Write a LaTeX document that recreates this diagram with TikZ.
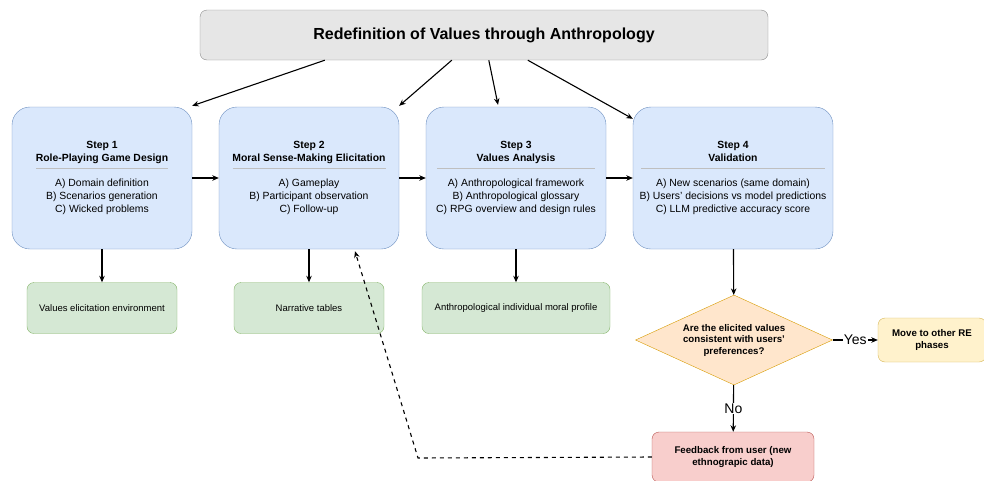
\documentclass[tikz,border=0pt]{standalone}
\usepackage{fontspec}
\setmainfont{Liberation Sans}
\usetikzlibrary{calc,shapes.geometric,arrows.meta}
\definecolor{titlefill}{HTML}{E6E6E6}
\definecolor{titleline}{HTML}{8C8C8C}
\definecolor{stepfill}{HTML}{DAE8FC}
\definecolor{stepline}{HTML}{6C8EBF}
\definecolor{outfill}{HTML}{D5E8D4}
\definecolor{outline}{HTML}{82B366}
\definecolor{askfill}{HTML}{FFE6CC}
\definecolor{askline}{HTML}{D79B00}
\definecolor{movefill}{HTML}{FFF2CC}
\definecolor{moveline}{HTML}{D6B656}
\definecolor{backfill}{HTML}{F8CECC}
\definecolor{backline}{HTML}{B85450}
\newcommand{\steprule}[1]{\textcolor{black!25}{\rule[3.5pt]{#1}{0.6pt}}}
\newcommand{\stepfont}{\fontsize{10.4}{13}\selectfont}
\newcommand{\smallbold}{\fontsize{9.7}{11.5}\selectfont\bfseries}

\tikzset{
  titlebox/.style={draw=titleline, fill=titlefill, rounded corners=7pt, minimum width=568pt, minimum height=50pt, font=\fontsize{16}{19}\selectfont\bfseries},
  stepbox/.style={draw=stepline, fill=stepfill, rounded corners=18pt, minimum width=180pt, minimum height=142pt, align=center, inner sep=0pt, font=\stepfont},
  outbox/.style={draw=outline, fill=outfill, rounded corners=7pt, minimum width=150pt, minimum height=51pt, font=\fontsize{9.5}{11.5}\selectfont},
  askbox/.style={draw=askline, fill=askfill, diamond, aspect=2.2, minimum width=197pt, minimum height=90pt, inner sep=0pt, align=center, font=\smallbold},
  movebox/.style={draw=moveline, fill=movefill, rounded corners=7pt, minimum width=108pt, minimum height=44pt, align=center, font=\smallbold},
  backbox/.style={draw=backline, fill=backfill, rounded corners=7pt, minimum width=162pt, minimum height=50pt, align=center, font=\smallbold},
  arr/.style={-{Stealth[length=6.5pt,width=5.5pt]}, line width=1.1pt},
  answer/.style={fill=white, inner sep=1pt, font=\fontsize{14}{16}\selectfont}
}

\begin{document}
\begin{tikzpicture}[x=1pt,y=-1pt]
    \useasboundingbox (0,0) rectangle (984,480);

    \node[titlebox] (title) at (484,35) {Redefinition of Values through Anthropology};

    % steps
    \node[stepbox] (s1) at (102,178) {\textbf{Step 1}\\\textbf{Role-Playing Game Design}\\[-2pt]\steprule{132pt}\\[1pt]A) Domain definition\\B) Scenarios generation\\C) Wicked problems};
    \node[stepbox] (s2) at (309,178) {\textbf{Step 2}\\\textbf{Moral Sense-Making Elicitation}\\[-2pt]\steprule{153pt}\\[1pt]A) Gameplay\\B) Participant observation\\C) Follow-up};
    \node[stepbox] (s3) at (516,178) {\textbf{Step 3}\\\textbf{Values Analysis}\\[-2pt]\steprule{158pt}\\[1pt]A) Anthropological framework\\B) Anthropological glossary\\C) RPG overview and design rules};
    \node[stepbox, minimum width=200pt] (s4) at (733,178) {\textbf{Step 4}\\\textbf{Validation}\\[-2pt]\steprule{184pt}\\[1pt]A) New scenarios (same domain)\\B) Users' decisions vs model predictions\\C) LLM predictive accuracy score};

    % outputs
    \node[outbox] (g1) at (102,308) {Values elicitation environment};
    \node[outbox] (g2) at (309,308) {Narrative tables};
    \node[outbox, minimum width=188pt] (g3) at (516,308) {Anthropological individual moral profile};

    % validation
    \node[askbox] (ask) at (734,340) {Are the elicited values\\consistent with users'\\preferences?};
    \node[movebox] (move) at (932,340) {Move to other RE\\phases};
    \node[backbox] (back) at (733,457) {Feedback from user (new\\ethnograpic data)};
    \coordinate (turn) at (418,458);

    \draw[arr] ($(title.south west)+(125,0)$) -- ($(s1.north east)+(0,-1)$);
    \draw[arr] ($(title.south west)+(252,0)$) -- ($(s2.north east)+(0,-1)$);
    \draw[arr] ($(title.south west)+(289,0)$) -- ($(s3.north)+(-18,-2)$);
    \draw[arr] ($(title.south west)+(328,0)$) -- ($(s4.north west)+(0,12)$);

    \draw[arr] (s1) -- (s2);
    \draw[arr] (s2) -- (s3);
    \draw[arr] (s3) -- (s4);

    \draw[arr] (s1) -- (g1);
    \draw[arr] (s2) -- (g2);
    \draw[arr] (s3) -- (g3);
    \draw[arr] (s4) -- (ask);

    \draw[arr] (ask) -- node[answer] {Yes} (move);
    \draw[arr] (ask) -- node[answer] {No} (back);
    \draw[arr, dash pattern=on 4pt off 4pt] (back.west) -- (turn) -- ($(s2.south)+(46,2)$);
\end{tikzpicture}
\end{document}
